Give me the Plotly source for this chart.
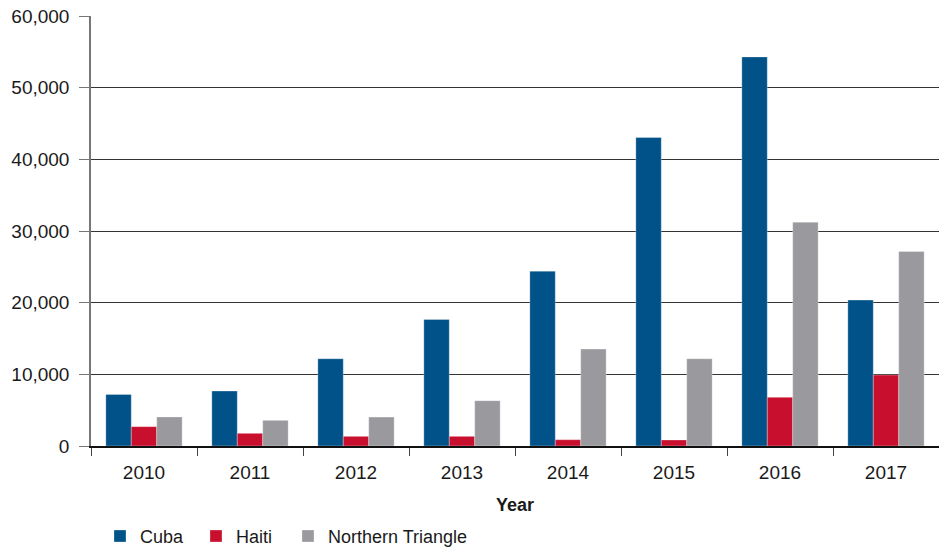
import plotly.graph_objects as go

years = ["2010", "2011", "2012", "2013", "2014", "2015", "2016", "2017"]
cuba = [7200, 7670, 12170, 17660, 24400, 43040, 54290, 20360]
haiti = [2700, 1770, 1350, 1350, 880, 840, 6790, 9900]
northern_triangle = [4050, 3580, 4040, 6320, 13520, 12170, 31230, 27150]

y_ticks = [0, 10000, 20000, 30000, 40000, 50000, 60000]
y_tick_labels = ["0", "10,000", "20,000", "30,000", "40,000", "50,000", "60,000"]

series = [
    ("Cuba", cuba, "#005288", "legend"),
    ("Haiti", haiti, "#C8102E", "legend2"),
    ("Northern Triangle", northern_triangle, "#9A9A9E", "legend3"),
]
legend_x = {"legend": 0.0106, "legend2": 0.1238, "legend3": 0.2323}

font_family = "Liberation Sans, Arial, sans-serif"

fig = go.Figure()
for name, vals, color, lg in series:
    fig.add_trace(go.Bar(
        x=years, y=vals, name=name, legend=lg, showlegend=True,
        marker=dict(color=color, line=dict(color="rgba(255,255,255,0.5)", width=0.6)),
    ))

legend_common = dict(
    orientation="h", xanchor="left", y=-0.21, yanchor="middle",
    font=dict(size=18, color="#1a1a1a"), bgcolor="rgba(0,0,0,0)",
)

fig.update_layout(
    width=939, height=548,
    margin=dict(l=91, r=0, t=16, b=102, autoexpand=False),
    paper_bgcolor="white", plot_bgcolor="white",
    barmode="group", bargap=0.28, bargroupgap=0,
    font=dict(family=font_family, size=19, color="#1a1a1a"),
    showlegend=True,
    legend=dict(x=legend_x["legend"], **legend_common),
    legend2=dict(x=legend_x["legend2"], **legend_common),
    legend3=dict(x=legend_x["legend3"], **legend_common),
    xaxis=dict(
        type="category", showline=True, linecolor="#111", linewidth=1.5,
        ticks="outside", tickson="boundaries", ticklen=8, tickcolor="#444",
        ticklabelstandoff=8, automargin=False,
        showgrid=False,
        title=dict(text="<b>Year</b>", font=dict(size=18), standoff=17),
    ),
    yaxis=dict(
        range=[0, 60000], tickvals=y_ticks, ticktext=y_tick_labels,
        showline=True, linecolor="#777", linewidth=1.5, automargin=False,
        ticks="outside", ticklen=10, tickcolor="#777", ticklabelstandoff=6,
        showgrid=True, gridcolor="#333", gridwidth=1, zeroline=False,
    ),
)

fig.write_html("out.html")
